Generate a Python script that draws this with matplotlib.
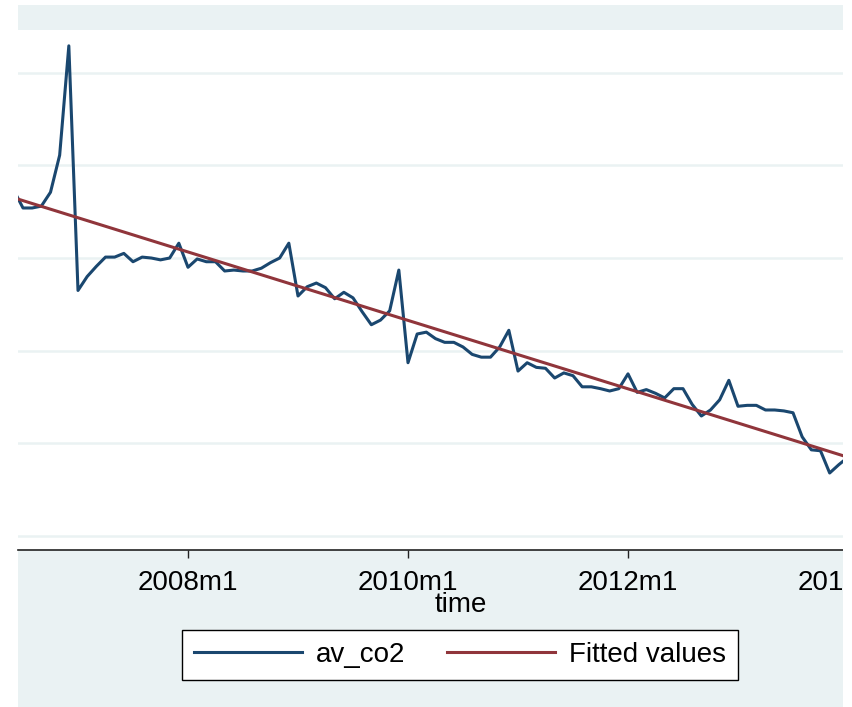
import numpy as np
import matplotlib
matplotlib.use("Agg")
import matplotlib.pyplot as plt
from matplotlib.patches import Rectangle

# ---- data (months counted from 2008m1 = 0) ----
start_month = -19          # 2006m6
av_co2 = [157.3, 155.4, 155.4, 155.6, 157.1, 161.1, 172.9,
          146.5, 148.0, 149.1, 150.1, 150.1, 150.5, 149.6, 150.1, 150.0, 149.8, 150.0, 151.6,
          149.0, 149.9, 149.6, 149.6, 148.6, 148.7, 148.6, 148.6, 148.9, 149.5, 150.0, 151.6,
          145.9, 146.9, 147.3, 146.8, 145.6, 146.3, 145.7, 144.2, 142.8, 143.3, 144.3, 148.7,
          138.7, 141.8, 142.0, 141.3, 140.9, 140.9, 140.4, 139.6, 139.3, 139.3, 140.4, 142.2,
          137.8, 138.7, 138.2, 138.1, 137.05, 137.6, 137.3, 136.1, 136.1, 135.9, 135.65, 135.9,
          137.5, 135.5, 135.8, 135.4, 134.9, 135.9, 135.9, 134.2, 132.95, 133.6, 134.7, 136.8,
          134.0, 134.1, 134.1, 133.6, 133.6, 133.5, 133.3, 130.7, 129.3, 129.2, 126.8, 127.7,
          128.5]
fit_months = [-19, 72]
fit_values = [156.5, 128.5]
tick_months = [0, 24, 48, 72]
tick_labels = ["2008m1", "2010m1", "2012m1", "2014m1"]
grid_values = [120, 130, 140, 150, 160, 170]

months = np.arange(len(av_co2)) + start_month

W, H = 852, 707
fig = plt.figure(figsize=(W / 100, H / 100), dpi=100)
fig.patch.set_facecolor("white")

bg = "#EAF2F3"
fig.add_artist(Rectangle((18 / W, 0), (843 - 18) / W, (H - 5) / H,
                         transform=fig.transFigure, facecolor=bg, edgecolor="none", zorder=-5))

ax_l, ax_r, ax_t, ax_b = 18, 852, 30, 550
ax = fig.add_axes([ax_l / W, (H - ax_b) / H, (ax_r - ax_l) / W, (ax_b - ax_t) / H])
ax.set_facecolor("white")

px_per_month = 9.1667
x0 = 188
ax.set_xlim((ax_l - x0) / px_per_month, (ax_r - x0) / px_per_month)
# y mapping: 120 at 536 px, 9.266 px per unit
ax.set_ylim(120 - (ax_b - 536) / 9.266, 120 + (536 - ax_t) / 9.266)

ax.plot(months, av_co2, color="#1A476F", lw=2.2, solid_joinstyle="round", label="av_co2", zorder=3)
ax.plot(fit_months, fit_values, color="#90353B", lw=2.2, label="Fitted values", zorder=4)

ax.set_yticks(grid_values)
ax.set_yticklabels([])
ax.tick_params(axis="y", length=0)
ax.grid(axis="y", color=bg, lw=1.8)
ax.set_axisbelow(True)

ax.set_xticks(tick_months)
ax.set_xticklabels(tick_labels, fontsize=20, family="Liberation Sans")
ax.tick_params(axis="x", direction="out", length=6, width=1, color="#222222", pad=8.5)

for s in ["left", "right", "top"]:
    ax.spines[s].set_visible(False)
ax.spines["bottom"].set_color("#222222")
ax.spines["bottom"].set_linewidth(1.2)

fig.text(461 / W, (H - 605) / H, "time", ha="center", va="center",
         fontsize=20, family="Liberation Sans")

handles, labels = ax.get_legend_handles_labels()
leg = fig.legend(handles, labels, loc="center", bbox_to_anchor=(460 / W, (H - 655) / H),
                 ncol=2, frameon=True, fancybox=False, framealpha=1, edgecolor="black",
                 prop={"family": "Liberation Sans", "size": 20},
                 handlelength=3.9, handletextpad=0.5, columnspacing=1.5,
                 borderpad=0.42, borderaxespad=0)
leg.get_frame().set_linewidth(1.0)

# crop on the right like the reference
fig.add_artist(Rectangle((843 / W, 0), (W - 843) / W, 1, transform=fig.transFigure,
                         facecolor="white", edgecolor="none", zorder=20))

fig.savefig("out.png", dpi=100)
